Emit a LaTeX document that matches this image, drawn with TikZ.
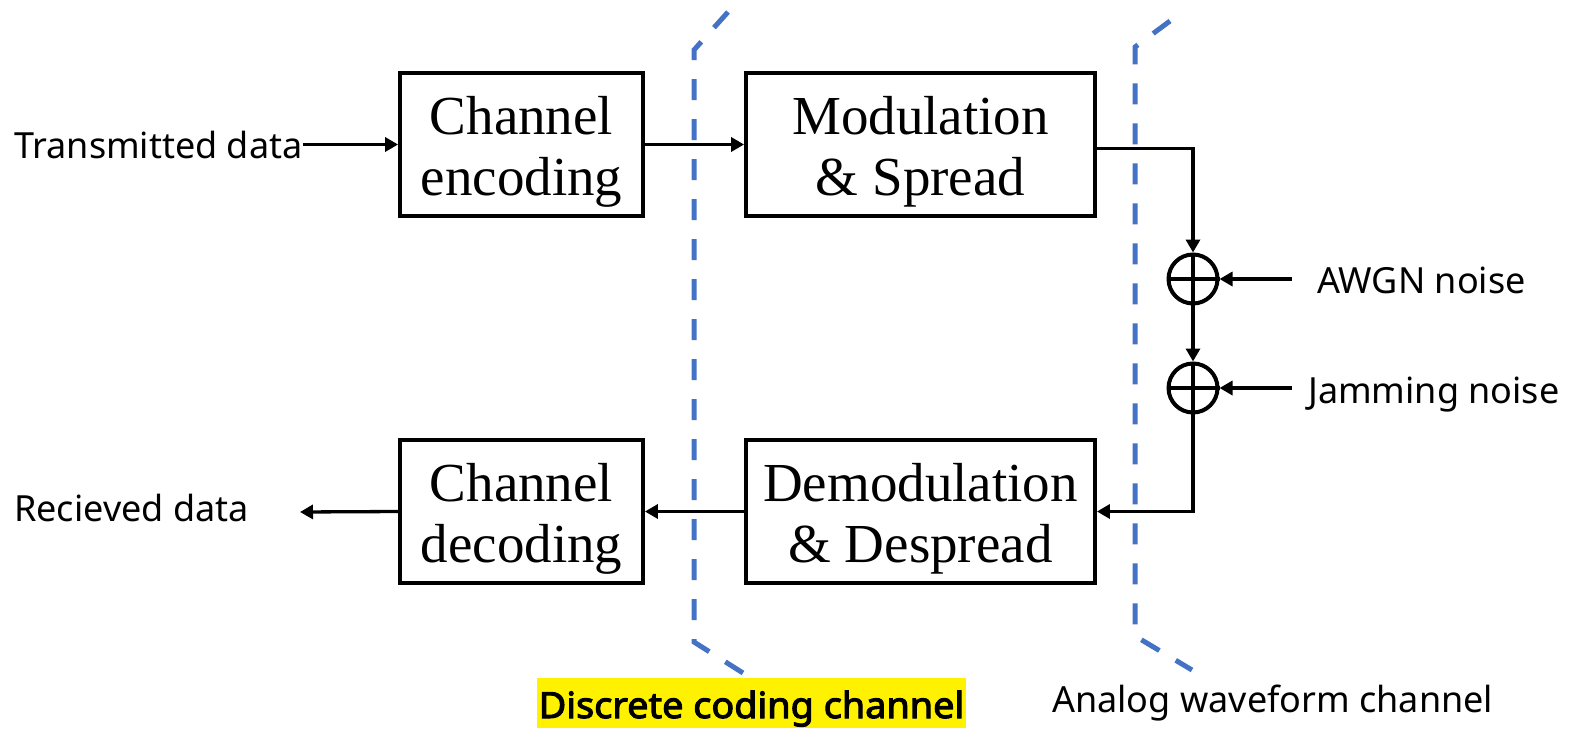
\documentclass[tikz,border=0pt]{standalone}
\usepackage{fontspec}
\setmainfont{Liberation Serif}
\newfontfamily\labfont{Noto Sans}
\newfontfamily\labboldfont{Noto Sans}[FakeBold=3,FakeStretch=1.05]
\usetikzlibrary{arrows.meta}
\definecolor{chblue}{RGB}{68,114,196}
\begin{document}
\begin{tikzpicture}[x=1pt,y=-1pt,
  blk/.style={draw, line width=3.8pt, inner sep=0pt, align=center,
    font=\fontsize{55}{61}\selectfont, text height=122pt, text depth=21pt, minimum height=143pt},
  lbl/.style={font=\labfont\fontsize{36}{40}\selectfont, inner sep=0pt, anchor=base west},
  arr/.style={line width=3.3pt, -{Triangle[length=13pt,width=14pt]}},
  sumnode/.style={circle, draw, line width=4pt, minimum size=49pt, inner sep=0pt},
  bound/.style={chblue, line width=5pt, dash pattern=on 21pt off 19pt}
]
\useasboundingbox (0,0) rectangle (1581,728);

\node[blk, minimum width=243pt] (ce) at (521.5,144.5) {Channel\\encoding};
\node[blk, minimum width=349pt] (mod) at (920.5,144.5) {Modulation\\\& Spread};
\node[blk, minimum width=243pt] (cd) at (521.5,511.5) {Channel\\decoding};
\node[blk, minimum width=349pt] (dem) at (920.5,511.5) {Demodulation\\\& Despread};

\node[sumnode] (s1) at (1193,279) {};
\node[sumnode] (s2) at (1193,388) {};
\draw[line width=3.3pt] (s1.west) -- (s1.east) (s1.north) -- (s1.south);
\draw[line width=3.3pt] (s2.west) -- (s2.east) (s2.north) -- (s2.south);

\node[lbl] (tx) at (14,158) {Transmitted data};
\node[lbl] (rx) at (14,521) {Recieved data};
\node[lbl] (awgn) at (1317,293) {AWGN noise};
\node[lbl] (jam) at (1308,403) {Jamming noise};
\node[lbl] (analog) at (1052,712) {Analog waveform channel};
\node[fill=yellow, inner sep=0pt, minimum width=429pt, minimum height=50pt,
  text height=40pt, text depth=10pt,
  font=\labboldfont\fontsize{36}{40}\selectfont] (disc) at (751.5,703) {Discrete coding channel};

\coordinate (aw) at (1292,279);
\coordinate (jm) at (1292,388);
\coordinate (rxe) at (300,512);

\draw[arr] (ce.west -| tx.east) -- (ce.west);
\draw[arr] (ce.east) -- (mod.west);
\draw[arr] ([yshift=-4pt]mod.east) -| (s1.north);
\draw[arr] (s1.south) -- (s2.north);
\draw[arr] (aw) -- (s1.east);
\draw[arr] (jm) -- (s2.east);
\draw[arr] (s2.south) |- (dem.east);
\draw[arr] (dem.west) -- (cd.east);
\draw[arr] (cd.west) -- (rxe);

\draw[bound] (728,12) -- (694,50) -- (694,642) -- (743,673);
\draw[bound] (1170,21) -- (1135,47) -- (1135,636) -- (1192,670);
\end{tikzpicture}
\end{document}
